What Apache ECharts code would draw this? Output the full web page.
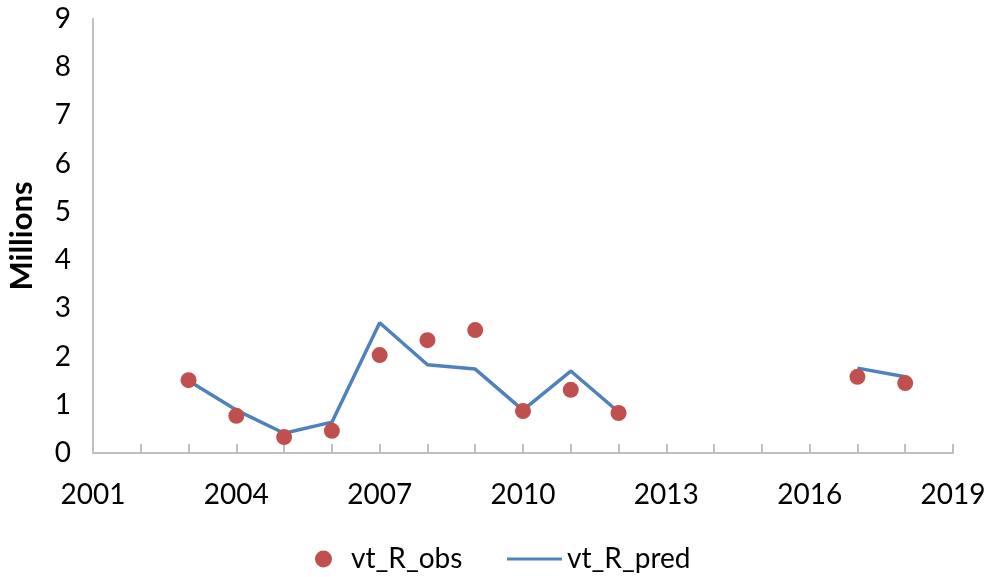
<!DOCTYPE html>
<html><head><meta charset="utf-8">
<script src="https://cdn.jsdelivr.net/npm/echarts@6/dist/echarts.min.js"></script>
<style>html,body{margin:0;padding:0;background:#fff}#c{width:989px;height:577px}</style>
</head><body><div id="c"></div>
<script>
const years = [2003,2004,2005,2006,2007,2008,2009,2010,2011,2012,2013,2014,2015,2016,2017,2018];
const obsValues = [1.51,0.77,0.33,0.46,2.03,2.34,2.55,0.87,1.31,0.83,null,null,null,null,1.58,1.45];
const predValues = [1.50,0.89,0.41,0.64,2.70,1.83,1.74,0.89,1.70,0.85,null,null,null,null,1.76,1.58];
const yTicks = [0,1,2,3,4,5,6,7,8,9];

const font = 'Lato, "Open Sans", sans-serif';
const obsData = years.map((y,i)=>obsValues[i]==null?null:[y,obsValues[i]]).filter(d=>d);
const predData = years.map((y,i)=>[y, predValues[i]==null?'-':predValues[i]]);

const chart = echarts.init(document.getElementById('c'));
chart.setOption({
  animation:false,
  grid:{left:93,right:36,top:19,bottom:124,containLabel:false,outerBoundsMode:'none'},
  xAxis:{type:'value',min:2001,max:2019,interval:1,
    axisLine:{lineStyle:{color:'#bfbfbf',width:2}},
    axisTick:{show:true,inside:true,length:9,lineStyle:{color:'#bfbfbf',width:2}},
    splitLine:{show:false},
    axisLabel:{color:'#000',fontFamily:font,fontSize:28,margin:28,
      formatter:v=>((v-2001)%3===0?String(v):'')}
  },
  yAxis:{type:'value',min:yTicks[0],max:yTicks[yTicks.length-1],interval:1,
    name:'Millions',nameLocation:'middle',nameRotate:90,nameGap:56,
    nameTextStyle:{color:'#000',fontFamily:font,fontSize:31,fontWeight:'bold'},
    axisLine:{show:true,lineStyle:{color:'#bfbfbf',width:2}},
    axisTick:{show:false},
    splitLine:{show:false},
    axisLabel:{color:'#000',fontFamily:font,fontSize:28,margin:22}
  },
  legend:[
    {data:[{name:'vt_R_obs',icon:'circle'}],left:310,top:540,itemWidth:17,itemHeight:17,itemGap:10,
      textStyle:{color:'#000',fontFamily:font,fontSize:28,padding:[0,0,0,14]}},
    {data:[{name:'vt_R_pred',icon:'rect'}],left:502,top:540,itemWidth:55,itemHeight:3,
      textStyle:{color:'#000',fontFamily:font,fontSize:28,padding:[0,0,0,0]}}
  ],
  series:[
    {name:'vt_R_obs',type:'scatter',data:obsData,symbolSize:16,z:3,
      itemStyle:{color:'#C0504D',opacity:1}},
    {name:'vt_R_pred',type:'line',data:predData,showSymbol:false,symbol:'none',connectNulls:false,z:2,
      lineStyle:{color:'#4F81BD',width:3.5},itemStyle:{color:'#4F81BD'}}
  ]
});
</script></body></html>
